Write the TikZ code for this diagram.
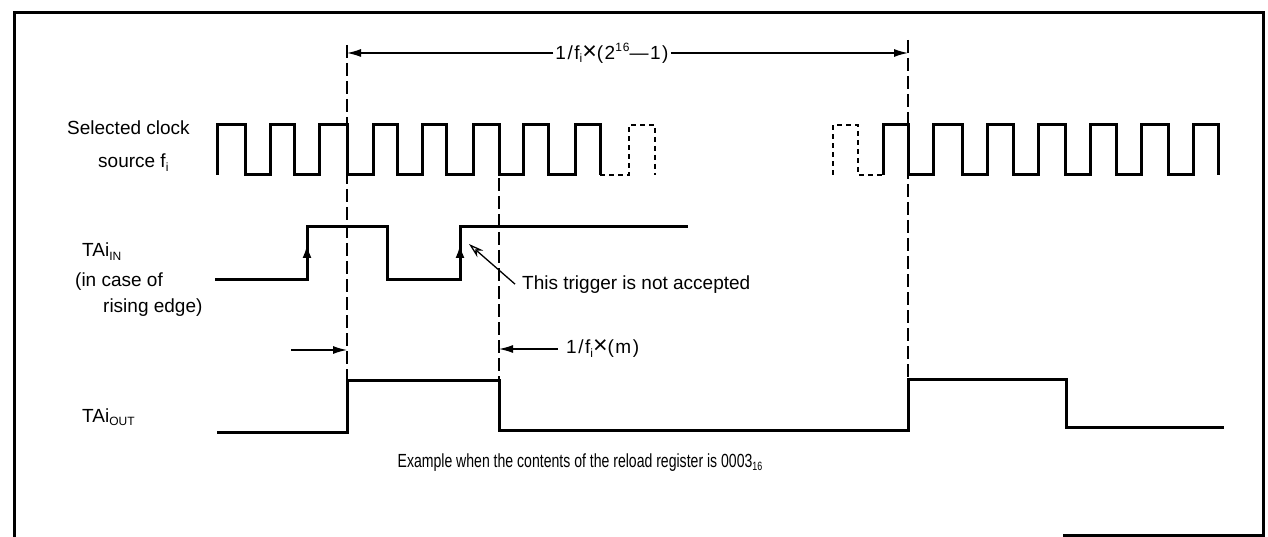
\documentclass[tikz,border=0pt]{standalone}
\usepackage{fontspec}
\setmainfont{Liberation Sans}
\newfontfamily\dimfont[LetterSpace=8]{Liberation Sans}
\usetikzlibrary{arrows.meta, positioning}
\newcommand{\lowtxt}[1]{\raisebox{-0.35ex}{\fontsize{12}{12}\selectfont #1}}
\newcommand{\hightxt}[1]{\raisebox{0.8ex}{\fontsize{12}{12}\selectfont #1}}
\newcommand{\mulsign}{{\fontsize{25}{25}\selectfont ×}}

\begin{document}
\begin{tikzpicture}[x=1pt, y=-1pt,
    wave/.style={line width=3pt, line join=miter},
    fade/.style={line width=2.4pt, dash pattern=on 5pt off 4pt},
    guide/.style={line width=1.3pt, dash pattern=on 13pt off 5pt},
    dimline/.style={line width=1.3pt, -{Latex[length=14pt, width=8pt]}},
    edgetip/.style={line width=3pt, -{Latex[length=14pt, width=9pt]}},
    lbl/.style={inner sep=0pt, anchor=base west, font=\fontsize{19}{22}\selectfont},
    dimlbl/.style={inner sep=2pt, font=\dimfont\fontsize{19}{22}\selectfont}
  ]
  \useasboundingbox (0,0) rectangle (1268,537);
  % frame
  \draw[line width=3pt] (14,537) -- (14,13) -- (1263,13) -- (1263,535) -- (1063,535);

  % signal names
  \node[lbl] (clk1) at (67,135) {Selected clock};
  \node[lbl] (clk2) at (98,168) {source f\lowtxt{i}};
  \node[lbl] (in1) at (82,257) {TAi\lowtxt{IN}};
  \node[lbl] (in2) at (75,287) {(in case of};
  \node[lbl] (in3) at (103,312) {rising edge)};
  \node[lbl] (out) at (82,422) {TAi\lowtxt{OUT}};

  % clock source
  \draw[wave] (217,175) -- (217,125) -- (245,125) -- (245,175) -- (270,175) -- (270,125) -- (294,125) -- (294,175)
    -- (319,175) -- (319,125) -- (347,125) -- (347,175) -- (373,175) -- (373,125) -- (397,125) -- (397,175)
    -- (422,175) -- (422,125) -- (446,125) -- (446,175) -- (473,175) -- (473,125) -- (499,125) -- (499,175)
    -- (523,175) -- (523,125) -- (548,125) -- (548,175) -- (575,175) -- (575,125) -- (600,125) -- (600,175);
  \draw[fade] (600,175) -- (629,175) -- (629,125) -- (655,125) -- (655,175);
  \draw[fade] (833,175) -- (833,125) -- (858,125) -- (858,175) -- (883,175);
  \draw[wave] (883,175) -- (883,125) -- (908,125) -- (908,175) -- (933,175) -- (933,125) -- (962,125) -- (962,175)
    -- (987,175) -- (987,125) -- (1013,125) -- (1013,175) -- (1038,175) -- (1038,125) -- (1065,125) -- (1065,175)
    -- (1090,175) -- (1090,125) -- (1116,125) -- (1116,175) -- (1141,175) -- (1141,125) -- (1168,125) -- (1168,175)
    -- (1193,175) -- (1193,125) -- (1218,125) -- (1218,175);

  % trigger input
  \draw[wave] (215,279) -- (307,279) -- (307,227) -- (387,227) -- (387,279) -- (460,279) -- (460,227) -- (688,227);
  \draw[edgetip] (307,272) -- (307,244);
  \draw[edgetip] (460,272) -- (460,244);

  % timer output
  \draw[wave] (217,432) -- (347,432) -- (347,380) -- (499,380) -- (499,430) -- (908,430) -- (908,379)
    -- (1066,379) -- (1066,427) -- (1224,427);

  % guides
  \draw[guide] (347,45) -- (347,380);
  \draw[guide] (499,178) -- (499,380);
  \draw[guide] (908,40) -- (908,379);

  % count period
  \node[dimlbl] (full) at (612,53) {1/f\lowtxt{i}\mulsign(2\hightxt{16}—1)};
  \coordinate (fullL) at (347,53);
  \coordinate (fullR) at (908,53);
  \draw[dimline] (full) -- (fullL);
  \draw[dimline] (full) -- (fullR);

  % delay
  \coordinate (mL) at (291,350);
  \coordinate (mR) at (347,350);
  \draw[dimline] (mL) -- (mR);
  \node[dimlbl, inner xsep=8pt, anchor=west] (delay) at (558,349) {1/f\lowtxt{i}\mulsign(m)};
  \coordinate (mE) at (499,349);
  \draw[dimline] (delay) -- (mE);

  % note
  \node[lbl] (note) at (522,289) {This trigger is not accepted};
  \coordinate (trig) at (469,244);
  \draw[line width=1.3pt, -{Stealth[open, length=15pt, width=9pt]}] ([xshift=-7pt]note.west) -- (trig);

  % caption
  \node[lbl, anchor=base] (caption) at (580,467) {\scalebox{0.74}[1]{Example when the contents of the reload register is 0003\lowtxt{16}}};
\end{tikzpicture}
\end{document}
